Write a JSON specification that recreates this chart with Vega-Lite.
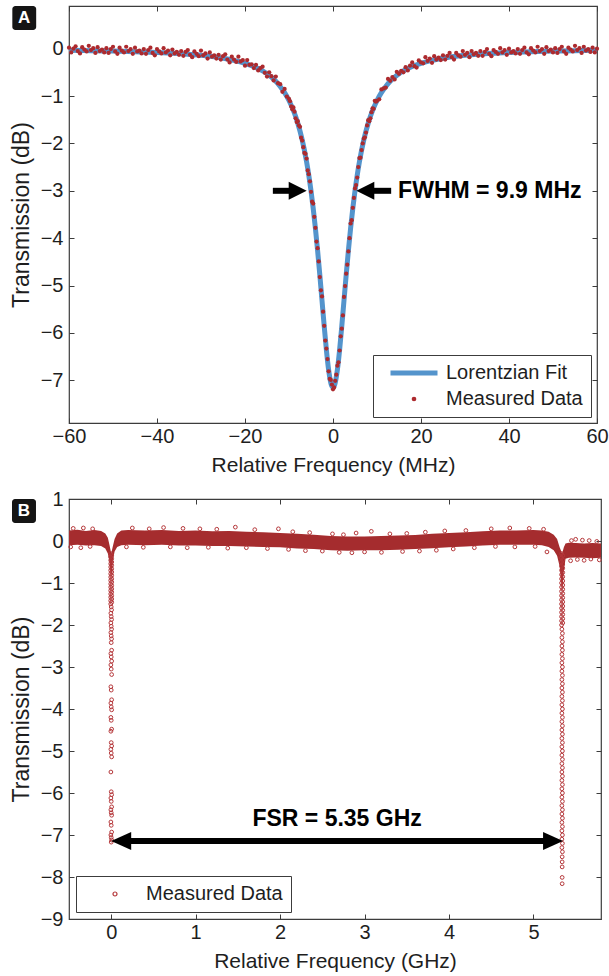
{
"$schema":"https://vega.github.io/schema/vega-lite/v6.json",
"background":"white",
"padding":{"left":9,"top":4,"right":0,"bottom":2},
"spacing":12,
"resolve":{"scale":{"color":"independent"},"legend":{"color":"independent"}},
"config":{
 "view":{"stroke":"#3c3c3c","strokeWidth":1.2},
 "axis":{"labelFont":"Liberation Sans","labelFontSize":20,"labelColor":"#1e1e1e","titleFont":"Liberation Sans","titleFontWeight":"normal","titleColor":"#1e1e1e","domain":false,"grid":false,"tickColor":"#3c3c3c","tickSize":-5,"tickWidth":1,"labelFlush":false},
 "axisX":{"labelPadding":8,"titleFontSize":21,"titlePadding":8},
 "axisY":{"labelPadding":11,"titleFontSize":23,"titlePadding":7},
 "legend":{"strokeColor":"#3c3c3c","fillColor":"white","padding":8,"labelFont":"Liberation Sans","labelFontSize":20,"labelColor":"#1e1e1e","rowPadding":6}
},
"datasets":{
 "fitA":[{"x":-60,"y":-0.036},{"x":-55,"y":-0.042},{"x":-50,"y":-0.051},{"x":-45,"y":-0.063},{"x":-40,"y":-0.08},{"x":-36,"y":-0.098},{"x":-33,"y":-0.117},{"x":-30,"y":-0.141},{"x":-28,"y":-0.161},{"x":-26,"y":-0.186},{"x":-24,"y":-0.217},{"x":-22,"y":-0.257},{"x":-20,"y":-0.309},{"x":-19,"y":-0.341},{"x":-18,"y":-0.378},{"x":-17,"y":-0.421},{"x":-16,"y":-0.471},{"x":-15,"y":-0.531},{"x":-14,"y":-0.603},{"x":-13,"y":-0.69},{"x":-12,"y":-0.797},{"x":-11,"y":-0.929},{"x":-10,"y":-1.094},{"x":-9,"y":-1.304},{"x":-8,"y":-1.574},{"x":-7,"y":-1.926},{"x":-6,"y":-2.389},{"x":-5.5,"y":-2.673},{"x":-5,"y":-2.999},{"x":-4.5,"y":-3.371},{"x":-4,"y":-3.792},{"x":-3.5,"y":-4.26},{"x":-3,"y":-4.772},{"x":-2.5,"y":-5.312},{"x":-2,"y":-5.854},{"x":-1.5,"y":-6.358},{"x":-1,"y":-6.775},{"x":-0.5,"y":-7.052},{"x":-0.25,"y":-7.125},{"x":0,"y":-7.15},{"x":0.25,"y":-7.125},{"x":0.5,"y":-7.052},{"x":1,"y":-6.775},{"x":1.5,"y":-6.358},{"x":2,"y":-5.854},{"x":2.5,"y":-5.312},{"x":3,"y":-4.772},{"x":3.5,"y":-4.26},{"x":4,"y":-3.792},{"x":4.5,"y":-3.371},{"x":5,"y":-2.999},{"x":5.5,"y":-2.673},{"x":6,"y":-2.389},{"x":7,"y":-1.926},{"x":8,"y":-1.574},{"x":9,"y":-1.304},{"x":10,"y":-1.094},{"x":11,"y":-0.929},{"x":12,"y":-0.797},{"x":13,"y":-0.69},{"x":14,"y":-0.603},{"x":15,"y":-0.531},{"x":16,"y":-0.471},{"x":17,"y":-0.421},{"x":18,"y":-0.378},{"x":19,"y":-0.341},{"x":20,"y":-0.309},{"x":22,"y":-0.257},{"x":24,"y":-0.217},{"x":26,"y":-0.186},{"x":28,"y":-0.161},{"x":30,"y":-0.141},{"x":33,"y":-0.117},{"x":36,"y":-0.098},{"x":40,"y":-0.08},{"x":45,"y":-0.063},{"x":50,"y":-0.051},{"x":55,"y":-0.042},{"x":60,"y":-0.036}],
 "measA":[{"x":-60,"y":0.02},{"x":-59.5,"y":-0.08},{"x":-59,"y":0},{"x":-58.5,"y":0.05},{"x":-58,"y":-0.05},{"x":-57.5,"y":-0.1},{"x":-57,"y":0.03},{"x":-56.5,"y":-0.02},{"x":-56,"y":-0.06},{"x":-55.5,"y":0.06},{"x":-55,"y":-0.03},{"x":-54.5,"y":0.01},{"x":-54,"y":-0.09},{"x":-53.5,"y":0.03},{"x":-53,"y":-0.05},{"x":-52.5,"y":-0.02},{"x":-52,"y":-0.08},{"x":-51.5,"y":0.01},{"x":-51,"y":-0.09},{"x":-50.5,"y":-0.01},{"x":-50,"y":0.04},{"x":-49.5,"y":-0.06},{"x":-49,"y":-0.11},{"x":-48.5,"y":0.02},{"x":-48,"y":-0.04},{"x":-47.5,"y":-0.08},{"x":-47,"y":0.04},{"x":-46.5,"y":-0.05},{"x":-46,"y":-0.01},{"x":-45.5,"y":-0.11},{"x":-45,"y":0.02},{"x":-44.5,"y":-0.06},{"x":-44,"y":-0.04},{"x":-43.5,"y":-0.1},{"x":-43,"y":-0.01},{"x":-42.5,"y":-0.11},{"x":-42,"y":-0.03},{"x":-41.5,"y":0.02},{"x":-41,"y":-0.09},{"x":-40.5,"y":-0.14},{"x":-40,"y":-0.01},{"x":-39.5,"y":-0.06},{"x":-39,"y":-0.1},{"x":-38.5,"y":0.01},{"x":-38,"y":-0.08},{"x":-37.5,"y":-0.04},{"x":-37,"y":-0.14},{"x":-36.5,"y":-0.02},{"x":-36,"y":-0.1},{"x":-35.5,"y":-0.07},{"x":-35,"y":-0.13},{"x":-34.5,"y":-0.05},{"x":-34,"y":-0.15},{"x":-33.5,"y":-0.07},{"x":-33,"y":-0.03},{"x":-32.5,"y":-0.13},{"x":-32,"y":-0.18},{"x":-31.5,"y":-0.06},{"x":-31,"y":-0.11},{"x":-30.5,"y":-0.16},{"x":-30,"y":-0.04},{"x":-29.5,"y":-0.14},{"x":-29,"y":-0.1},{"x":-28.5,"y":-0.21},{"x":-28,"y":-0.08},{"x":-27.5,"y":-0.17},{"x":-27,"y":-0.14},{"x":-26.5,"y":-0.21},{"x":-26,"y":-0.13},{"x":-25.5,"y":-0.23},{"x":-25,"y":-0.16},{"x":-24.5,"y":-0.12},{"x":-24,"y":-0.23},{"x":-23.5,"y":-0.29},{"x":-23,"y":-0.17},{"x":-22.5,"y":-0.23},{"x":-22,"y":-0.28},{"x":-21.5,"y":-0.17},{"x":-21,"y":-0.27},{"x":-20.5,"y":-0.24},{"x":-20,"y":-0.36},{"x":-19.5,"y":-0.24},{"x":-19,"y":-0.34},{"x":-18.5,"y":-0.33},{"x":-18,"y":-0.41},{"x":-17.5,"y":-0.34},{"x":-17,"y":-0.46},{"x":-16.5,"y":-0.41},{"x":-16,"y":-0.38},{"x":-15.5,"y":-0.51},{"x":-15,"y":-0.59},{"x":-14.5,"y":-0.5},{"x":-14,"y":-0.58},{"x":-13.5,"y":-0.67},{"x":-13,"y":-0.59},{"x":-12.5,"y":-0.73},{"x":-12,"y":-0.75},{"x":-11.5,"y":-0.91},{"x":-11,"y":-0.85},{"x":-10.5,"y":-1.01},{"x":-10,"y":-1.06},{"x":-9.5,"y":-1.22},{"x":-9,"y":-1.24},{"x":-8.5,"y":-1.47},{"x":-8,"y":-1.53},{"x":-7.5,"y":-1.65},{"x":-7,"y":-1.94},{"x":-6.5,"y":-2.2},{"x":-6,"y":-2.32},{"x":-5.5,"y":-2.65},{"x":-5,"y":-3.02},{"x":-4.5,"y":-3.27},{"x":-4,"y":-3.78},{"x":-3.5,"y":-4.21},{"x":-3,"y":-4.82},{"x":-2.5,"y":-5.23},{"x":-2,"y":-5.85},{"x":-1.5,"y":-6.33},{"x":-1,"y":-6.81},{"x":-0.5,"y":-6.99},{"x":0,"y":-7.19},{"x":0.5,"y":-7.01},{"x":1,"y":-6.69},{"x":1.5,"y":-6.37},{"x":2,"y":-5.91},{"x":2.5,"y":-5.24},{"x":3,"y":-4.75},{"x":3.5,"y":-4.28},{"x":4,"y":-3.69},{"x":4.5,"y":-3.36},{"x":5,"y":-2.95},{"x":5.5,"y":-2.72},{"x":6,"y":-2.31},{"x":6.5,"y":-2.14},{"x":7,"y":-1.9},{"x":7.5,"y":-1.77},{"x":8,"y":-1.51},{"x":8.5,"y":-1.47},{"x":9,"y":-1.26},{"x":9.5,"y":-1.1},{"x":10,"y":-1.1},{"x":10.5,"y":-1.07},{"x":11,"y":-0.86},{"x":11.5,"y":-0.84},{"x":12,"y":-0.82},{"x":12.5,"y":-0.64},{"x":13,"y":-0.68},{"x":13.5,"y":-0.6},{"x":14,"y":-0.65},{"x":14.5,"y":-0.49},{"x":15,"y":-0.53},{"x":15.5,"y":-0.47},{"x":16,"y":-0.5},{"x":16.5,"y":-0.39},{"x":17,"y":-0.46},{"x":17.5,"y":-0.36},{"x":18,"y":-0.29},{"x":18.5,"y":-0.37},{"x":19,"y":-0.4},{"x":19.5,"y":-0.25},{"x":20,"y":-0.29},{"x":20.5,"y":-0.31},{"x":21,"y":-0.18},{"x":21.5,"y":-0.26},{"x":22,"y":-0.21},{"x":22.5,"y":-0.3},{"x":23,"y":-0.16},{"x":23.5,"y":-0.23},{"x":24,"y":-0.19},{"x":24.5,"y":-0.24},{"x":25,"y":-0.14},{"x":25.5,"y":-0.23},{"x":26,"y":-0.15},{"x":26.5,"y":-0.09},{"x":27,"y":-0.18},{"x":27.5,"y":-0.23},{"x":28,"y":-0.09},{"x":28.5,"y":-0.14},{"x":29,"y":-0.17},{"x":29.5,"y":-0.05},{"x":30,"y":-0.13},{"x":30.5,"y":-0.09},{"x":31,"y":-0.18},{"x":31.5,"y":-0.05},{"x":32,"y":-0.12},{"x":32.5,"y":-0.09},{"x":33,"y":-0.15},{"x":33.5,"y":-0.05},{"x":34,"y":-0.15},{"x":34.5,"y":-0.07},{"x":35,"y":-0.01},{"x":35.5,"y":-0.11},{"x":36,"y":-0.16},{"x":36.5,"y":-0.03},{"x":37,"y":-0.07},{"x":37.5,"y":-0.11},{"x":38,"y":0.01},{"x":38.5,"y":-0.08},{"x":39,"y":-0.03},{"x":39.5,"y":-0.13},{"x":40,"y":0},{"x":40.5,"y":-0.08},{"x":41,"y":-0.05},{"x":41.5,"y":-0.1},{"x":42,"y":-0.01},{"x":42.5,"y":-0.11},{"x":43,"y":-0.03},{"x":43.5,"y":0.02},{"x":44,"y":-0.08},{"x":44.5,"y":-0.12},{"x":45,"y":0.01},{"x":45.5,"y":-0.04},{"x":46,"y":-0.08},{"x":46.5,"y":0.04},{"x":47,"y":-0.05},{"x":47.5,"y":-0.01},{"x":48,"y":-0.11},{"x":48.5,"y":0.03},{"x":49,"y":-0.05},{"x":49.5,"y":-0.02},{"x":50,"y":-0.08},{"x":50.5,"y":0.01},{"x":51,"y":-0.09},{"x":51.5,"y":-0.01},{"x":52,"y":0.04},{"x":52.5,"y":-0.06},{"x":53,"y":-0.11},{"x":53.5,"y":0.02},{"x":54,"y":-0.02},{"x":54.5,"y":-0.06},{"x":55,"y":0.06},{"x":55.5,"y":-0.03},{"x":56,"y":0.01},{"x":56.5,"y":-0.09},{"x":57,"y":0.04},{"x":57.5,"y":-0.04},{"x":58,"y":-0.01},{"x":58.5,"y":-0.07},{"x":59,"y":0.02},{"x":59.5,"y":-0.08},{"x":60,"y":0},
 {"x":-9.75,"y":-1.11},{"x":-9.25,"y":-1.28},{"x":-8.75,"y":-1.33},{"x":-8.25,"y":-1.55},{"x":-7.75,"y":-1.62},{"x":-7.25,"y":-1.88},{"x":-6.75,"y":-2.08},{"x":-6.25,"y":-2.22},{"x":-5.75,"y":-2.57},{"x":-5.25,"y":-2.8},{"x":-4.75,"y":-3.23},{"x":-4.25,"y":-3.55},{"x":-3.75,"y":-4.07},{"x":-3.25,"y":-4.49},{"x":-2.75,"y":-5.1},{"x":-2.25,"y":-5.55},{"x":-1.75,"y":-6.16},{"x":-1.25,"y":-6.55},{"x":-0.75,"y":-6.97},{"x":-0.25,"y":-7.09},{"x":0.25,"y":-7.15},{"x":0.75,"y":-6.88},{"x":1.25,"y":-6.62},{"x":1.75,"y":-6.07},{"x":2.25,"y":-5.63},{"x":2.75,"y":-5.01},{"x":3.25,"y":-4.56},{"x":3.75,"y":-4},{"x":4.25,"y":-3.62},{"x":4.75,"y":-3.15},{"x":5.25,"y":-2.88},{"x":5.75,"y":-2.5},{"x":6.25,"y":-2.3},{"x":6.75,"y":-2},{"x":7.25,"y":-1.87},{"x":7.75,"y":-1.62},{"x":8.25,"y":-1.53},{"x":8.75,"y":-1.34},{"x":9.25,"y":-1.27},{"x":9.75,"y":-1.12}],
 "bandB":[{"x":-0.5,"hi":0.25,"lo":-0.1},{"x":-0.4,"hi":0.27,"lo":-0.09},{"x":-0.3,"hi":0.24,"lo":-0.11},{"x":-0.2,"hi":0.26,"lo":-0.1},{"x":-0.12,"hi":0.24,"lo":-0.12},{"x":-0.07,"hi":0.18,"lo":-0.18},{"x":-0.04,"hi":0.08,"lo":-0.3},{"x":-0.02,"hi":-0.1,"lo":-0.5},{"x":0,"hi":-0.3,"lo":-0.9},{"x":0.02,"hi":-0.12,"lo":-0.45},{"x":0.04,"hi":0.05,"lo":-0.25},{"x":0.07,"hi":0.18,"lo":-0.14},{"x":0.12,"hi":0.25,"lo":-0.1},{"x":0.2,"hi":0.26,"lo":-0.09},{"x":0.4,"hi":0.25,"lo":-0.1},{"x":0.6,"hi":0.26,"lo":-0.09},{"x":0.8,"hi":0.24,"lo":-0.11},{"x":1,"hi":0.25,"lo":-0.11},{"x":1.2,"hi":0.23,"lo":-0.12},{"x":1.4,"hi":0.24,"lo":-0.12},{"x":1.6,"hi":0.22,"lo":-0.13},{"x":1.8,"hi":0.21,"lo":-0.14},{"x":2,"hi":0.19,"lo":-0.15},{"x":2.2,"hi":0.17,"lo":-0.18},{"x":2.4,"hi":0.15,"lo":-0.19},{"x":2.6,"hi":0.12,"lo":-0.22},{"x":2.8,"hi":0.11,"lo":-0.23},{"x":3,"hi":0.11,"lo":-0.22},{"x":3.2,"hi":0.12,"lo":-0.22},{"x":3.4,"hi":0.13,"lo":-0.21},{"x":3.6,"hi":0.14,"lo":-0.19},{"x":3.8,"hi":0.17,"lo":-0.17},{"x":4,"hi":0.19,"lo":-0.15},{"x":4.2,"hi":0.21,"lo":-0.13},{"x":4.4,"hi":0.23,"lo":-0.11},{"x":4.6,"hi":0.25,"lo":-0.09},{"x":4.8,"hi":0.25,"lo":-0.09},{"x":5,"hi":0.26,"lo":-0.09},{"x":5.1,"hi":0.25,"lo":-0.1},{"x":5.18,"hi":0.22,"lo":-0.14},{"x":5.24,"hi":0.15,"lo":-0.22},{"x":5.28,"hi":0.05,"lo":-0.35},{"x":5.31,"hi":-0.15,"lo":-0.6},{"x":5.34,"hi":-0.3,"lo":-1.2},{"x":5.36,"hi":-0.15,"lo":-0.7},{"x":5.38,"hi":-0.06,"lo":-0.42},{"x":5.42,"hi":-0.04,"lo":-0.4},{"x":5.5,"hi":-0.05,"lo":-0.39},{"x":5.6,"hi":-0.06,"lo":-0.4},{"x":5.7,"hi":-0.05,"lo":-0.41},{"x":5.8,"hi":-0.06,"lo":-0.4}],
 "ptsB":[{"x":-0.45,"y":0.3},{"x":-0.33,"y":0.31},{"x":-0.22,"y":0.29},{"x":0.25,"y":0.31},{"x":0.45,"y":0.29},{"x":0.62,"y":0.32},{"x":0.85,"y":0.3},{"x":1.05,"y":0.29},{"x":1.25,"y":0.28},{"x":1.47,"y":0.33},{"x":1.7,"y":0.27},{"x":1.98,"y":0.29},{"x":2.15,"y":0.22},{"x":2.35,"y":0.2},{"x":2.62,"y":0.17},{"x":2.75,"y":0.15},{"x":2.9,"y":0.19},{"x":3.08,"y":0.23},{"x":3.3,"y":0.17},{"x":3.5,"y":0.18},{"x":3.72,"y":0.21},{"x":3.95,"y":0.24},{"x":4.2,"y":0.25},{"x":4.5,"y":0.29},{"x":4.72,"y":0.31},{"x":4.95,"y":0.3},{"x":5.12,"y":0.28},{"x":5.45,"y":0.01},{"x":5.5,"y":0.04},{"x":5.58,"y":0.02},{"x":5.66,"y":0.01},{"x":5.75,"y":-0.01},
 {"x":-0.48,"y":-0.14},{"x":-0.36,"y":-0.16},{"x":-0.25,"y":-0.13},{"x":0.18,"y":-0.14},{"x":0.38,"y":-0.15},{"x":0.7,"y":-0.14},{"x":0.9,"y":-0.16},{"x":1.15,"y":-0.15},{"x":1.38,"y":-0.17},{"x":1.6,"y":-0.16},{"x":1.85,"y":-0.18},{"x":2.1,"y":-0.2},{"x":2.3,"y":-0.23},{"x":2.5,"y":-0.24},{"x":2.7,"y":-0.27},{"x":2.85,"y":-0.28},{"x":3,"y":-0.26},{"x":3.2,"y":-0.27},{"x":3.45,"y":-0.25},{"x":3.65,"y":-0.24},{"x":3.85,"y":-0.22},{"x":4.05,"y":-0.19},{"x":4.3,"y":-0.16},{"x":4.55,"y":-0.13},{"x":4.78,"y":-0.14},{"x":5.02,"y":-0.13},{"x":5.16,"y":-0.26},{"x":5.44,"y":-0.47},{"x":5.52,"y":-0.44},{"x":5.6,"y":-0.46},{"x":5.68,"y":-0.43},{"x":5.78,"y":-0.45},
 {"x":-0.006,"y":-0.3},{"x":0.006,"y":-0.34},{"x":-0.006,"y":-0.38},{"x":0.006,"y":-0.42},{"x":-0.006,"y":-0.46},{"x":0.006,"y":-0.5},{"x":-0.006,"y":-0.54},{"x":0.006,"y":-0.58},{"x":-0.006,"y":-0.62},{"x":0.006,"y":-0.66},{"x":-0.006,"y":-0.7},{"x":0.006,"y":-0.74},{"x":-0.006,"y":-0.78},{"x":0.006,"y":-0.82},{"x":-0.006,"y":-0.86},{"x":0.006,"y":-0.9},{"x":-0.006,"y":-0.94},{"x":0.006,"y":-0.98},{"x":-0.006,"y":-1.02},{"x":0.006,"y":-1.06},{"x":-0.006,"y":-1.1},{"x":0.006,"y":-1.14},{"x":-0.006,"y":-1.18},{"x":0.006,"y":-1.22},{"x":-0.006,"y":-1.26},{"x":0.006,"y":-1.3},{"x":-0.006,"y":-1.34},{"x":0.006,"y":-1.38},{"x":-0.006,"y":-1.42},{"x":0.006,"y":-1.46},{"x":-0.006,"y":-1.5},
 {"x":0,"y":-1.57},{"x":0.004,"y":-1.64},{"x":-0.004,"y":-1.72},{"x":0,"y":-1.8},{"x":0.004,"y":-1.87},{"x":-0.004,"y":-1.95},{"x":0,"y":-2.03},{"x":0.004,"y":-2.1},{"x":-0.004,"y":-2.18},{"x":0,"y":-2.26},{"x":0.004,"y":-2.33},
 {"x":0,"y":-2.42},{"x":0.005,"y":-2.6},{"x":-0.004,"y":-2.68},{"x":0,"y":-2.76},{"x":0.005,"y":-2.86},{"x":-0.004,"y":-2.95},{"x":0,"y":-3.05},{"x":0.005,"y":-3.18},{"x":-0.004,"y":-3.47},{"x":0,"y":-3.55},{"x":0.005,"y":-3.78},{"x":-0.004,"y":-3.86},{"x":0,"y":-3.95},{"x":0.005,"y":-4.02},{"x":-0.004,"y":-4.2},{"x":0,"y":-4.27},{"x":0.005,"y":-4.48},{"x":-0.004,"y":-4.53},{"x":0,"y":-4.8},{"x":0.005,"y":-4.88},{"x":-0.004,"y":-4.96},{"x":0,"y":-5.05},{"x":0.005,"y":-5.14},{"x":-0.004,"y":-5.5},{"x":0,"y":-5.97},{"x":0.005,"y":-6.04},{"x":-0.004,"y":-6.12},{"x":0,"y":-6.2},{"x":0.005,"y":-6.33},{"x":-0.004,"y":-6.4},{"x":0,"y":-6.47},{"x":0.005,"y":-6.53},{"x":-0.004,"y":-6.69},{"x":0,"y":-6.77},{"x":0.005,"y":-6.93},{"x":-0.004,"y":-7},{"x":0,"y":-7.06},{"x":0.005,"y":-7.12},{"x":0,"y":-7.17},
 {"x":5.333,"y":-0.3},{"x":5.347,"y":-0.35},{"x":5.333,"y":-0.4},{"x":5.347,"y":-0.45},{"x":5.333,"y":-0.5},{"x":5.347,"y":-0.55},{"x":5.333,"y":-0.6},{"x":5.347,"y":-0.65},{"x":5.333,"y":-0.7},{"x":5.347,"y":-0.75},{"x":5.333,"y":-0.8},{"x":5.347,"y":-0.85},{"x":5.333,"y":-0.9},{"x":5.347,"y":-0.95},{"x":5.333,"y":-1},{"x":5.347,"y":-1.05},{"x":5.333,"y":-1.1},{"x":5.347,"y":-1.15},{"x":5.333,"y":-1.2},{"x":5.347,"y":-1.25},{"x":5.333,"y":-1.3},{"x":5.347,"y":-1.35},{"x":5.333,"y":-1.4},{"x":5.347,"y":-1.45},{"x":5.333,"y":-1.5},{"x":5.347,"y":-1.55},{"x":5.333,"y":-1.6},{"x":5.347,"y":-1.65},{"x":5.333,"y":-1.7},{"x":5.347,"y":-1.75},{"x":5.333,"y":-1.8},{"x":5.347,"y":-1.85},{"x":5.333,"y":-1.9},{"x":5.347,"y":-1.95},{"x":5.333,"y":-2},
 {"x":5.337,"y":-2.1},{"x":5.343,"y":-2.2},{"x":5.337,"y":-2.3},{"x":5.343,"y":-2.4},{"x":5.337,"y":-2.5},{"x":5.343,"y":-2.6},{"x":5.337,"y":-2.7},{"x":5.343,"y":-2.8},{"x":5.337,"y":-2.9},{"x":5.343,"y":-3},{"x":5.337,"y":-3.1},{"x":5.343,"y":-3.2},{"x":5.337,"y":-3.3},{"x":5.343,"y":-3.4},{"x":5.337,"y":-3.5},{"x":5.343,"y":-3.6},{"x":5.337,"y":-3.7},{"x":5.343,"y":-3.8},{"x":5.337,"y":-3.9},{"x":5.343,"y":-4},{"x":5.337,"y":-4.1},{"x":5.343,"y":-4.2},{"x":5.337,"y":-4.3},{"x":5.343,"y":-4.4},{"x":5.337,"y":-4.5},{"x":5.343,"y":-4.6},{"x":5.337,"y":-4.7},{"x":5.343,"y":-4.8},{"x":5.337,"y":-4.9},{"x":5.343,"y":-5},{"x":5.337,"y":-5.1},{"x":5.343,"y":-5.2},{"x":5.337,"y":-5.3},{"x":5.343,"y":-5.4},{"x":5.337,"y":-5.5},{"x":5.343,"y":-5.6},{"x":5.337,"y":-5.7},{"x":5.343,"y":-5.8},{"x":5.337,"y":-5.9},{"x":5.343,"y":-6},{"x":5.337,"y":-6.1},{"x":5.343,"y":-6.2},{"x":5.337,"y":-6.3},{"x":5.343,"y":-6.4},{"x":5.337,"y":-6.5},{"x":5.343,"y":-6.6},{"x":5.337,"y":-6.7},{"x":5.343,"y":-6.8},{"x":5.337,"y":-6.9},{"x":5.343,"y":-7},{"x":5.337,"y":-7.1},{"x":5.343,"y":-7.2},{"x":5.337,"y":-7.3},{"x":5.343,"y":-7.4},
 {"x":5.34,"y":-7.52},{"x":5.34,"y":-7.64},{"x":5.34,"y":-7.76},{"x":5.34,"y":-8.01},{"x":5.34,"y":-8.16}]
},
"vconcat":[
 {
  "width":528,"height":417,
  "resolve":{"axis":{"x":"independent","y":"independent"}},
  "layer":[
   {"data":{"name":"fitA"},"mark":{"type":"line","strokeWidth":5,"interpolate":"monotone"},
    "encoding":{
     "x":{"field":"x","type":"quantitative","scale":{"domain":[-60,60],"nice":false,"zero":false},"axis":{"orient":"bottom","values":[-60,-40,-20,0,20,40,60],"title":"Relative Frequency (MHz)"}},
     "y":{"field":"y","type":"quantitative","scale":{"domain":[-7.9,0.9],"nice":false,"zero":false},"axis":{"orient":"left","values":[0,-1,-2,-3,-4,-5,-6,-7],"title":"Transmission (dB)"}},
     "color":{"datum":"Lorentzian Fit","type":"nominal","scale":{"domain":["Lorentzian Fit","Measured Data"],"range":["#5494cc","#ad2a2e"]},
      "legend":{"title":null,"orient":"bottom-right","offset":6,"symbolStrokeWidth":5,"symbolOffset":23,"labelOffset":22,"symbolType":"stroke",
       "encode":{"symbols":{"update":{"shape":{"signal":"datum.value === 'Lorentzian Fit' ? 'stroke' : 'circle'"},"size":{"signal":"datum.value === 'Lorentzian Fit' ? 2209 : 22"},"strokeWidth":{"signal":"datum.value === 'Lorentzian Fit' ? 5 : 0"},"stroke":{"signal":"datum.value === 'Lorentzian Fit' ? '#5494cc' : '#ad2a2e'"},"fill":{"signal":"datum.value === 'Lorentzian Fit' ? 'transparent' : '#ad2a2e'"},"opacity":{"value":1}}}}}}
    }},
   {"data":{"name":"measA"},"mark":{"type":"point","filled":true,"size":18,"opacity":1},
    "encoding":{
     "x":{"field":"x","type":"quantitative","axis":{"orient":"top","labels":false,"title":null,"values":[-60,-40,-20,0,20,40,60]}},
     "y":{"field":"y","type":"quantitative","axis":{"orient":"right","labels":false,"title":null,"values":[0,-1,-2,-3,-4,-5,-6,-7]}},
     "color":{"datum":"Measured Data","type":"nominal",
      "legend":{"title":null,"orient":"bottom-right","offset":6,"symbolStrokeWidth":5,"symbolOffset":23,"labelOffset":22,"symbolType":"stroke",
       "encode":{"symbols":{"update":{"shape":{"signal":"datum.value === 'Lorentzian Fit' ? 'stroke' : 'circle'"},"size":{"signal":"datum.value === 'Lorentzian Fit' ? 2209 : 22"},"strokeWidth":{"signal":"datum.value === 'Lorentzian Fit' ? 5 : 0"},"stroke":{"signal":"datum.value === 'Lorentzian Fit' ? '#5494cc' : '#ad2a2e'"},"fill":{"signal":"datum.value === 'Lorentzian Fit' ? 'transparent' : '#ad2a2e'"},"opacity":{"value":1}}}}}}
    }},
   {"data":{"values":[{"x":-13.67,"x2":-8.6,"y":-3},{"x":7.9,"x2":13.22,"y":-3}]},"mark":{"type":"rule","strokeWidth":6,"color":"black"},
    "encoding":{"x":{"field":"x","type":"quantitative","axis":null},"x2":{"field":"x2"},"y":{"field":"y","type":"quantitative","axis":null}}},
   {"data":{"values":[{"x":-8.02,"y":-3}]},"mark":{"type":"point","shape":"M-1,-1L1,0L-1,1Z","size":324,"filled":true,"color":"black","opacity":1},
    "encoding":{"x":{"field":"x","type":"quantitative","axis":null},"y":{"field":"y","type":"quantitative","axis":null}}},
   {"data":{"values":[{"x":7.35,"y":-3}]},"mark":{"type":"point","shape":"M1,-1L-1,0L1,1Z","size":324,"filled":true,"color":"black","opacity":1},
    "encoding":{"x":{"field":"x","type":"quantitative","axis":null},"y":{"field":"y","type":"quantitative","axis":null}}},
   {"data":{"values":[{"x":14.8,"y":-3,"label":"FWHM = 9.9 MHz"}]},"mark":{"type":"text","font":"Liberation Sans","fontWeight":"bold","fontSize":23,"align":"left","baseline":"middle","color":"black"},
    "encoding":{"x":{"field":"x","type":"quantitative","axis":null},"y":{"field":"y","type":"quantitative","axis":null},"text":{"field":"label"}}},
   {"data":{"values":[{"x":-72.88,"x2":-67.46,"y":0.9,"y2":0.394}]},"mark":{"type":"rect","color":"#151515","cornerRadius":3},
    "encoding":{"x":{"field":"x","type":"quantitative","axis":null},"x2":{"field":"x2"},"y":{"field":"y","type":"quantitative","axis":null},"y2":{"field":"y2"}}},
   {"data":{"values":[{"x":-70.17,"y":0.647,"label":"A"}]},"mark":{"type":"text","font":"Liberation Sans","fontWeight":"bold","fontSize":17,"align":"center","baseline":"middle","color":"white"},
    "encoding":{"x":{"field":"x","type":"quantitative","axis":null},"y":{"field":"y","type":"quantitative","axis":null},"text":{"field":"label"}}}
  ]
 },
 {
  "width":532,"height":420,
  "resolve":{"axis":{"x":"independent","y":"independent"}},
  "layer":[
   {"data":{"name":"bandB"},"mark":{"type":"area","color":"#a52c2e","opacity":1},
    "encoding":{
     "x":{"field":"x","type":"quantitative","scale":{"domain":[-0.5,5.8],"nice":false,"zero":false},"axis":{"orient":"bottom","values":[0,1,2,3,4,5],"title":"Relative Frequency (GHz)"}},
     "y":{"field":"hi","type":"quantitative","scale":{"domain":[-9,1],"nice":false,"zero":false},"axis":{"orient":"left","values":[1,0,-1,-2,-3,-4,-5,-6,-7,-8,-9],"title":"Transmission (dB)"}},
     "y2":{"field":"lo"}
    }},
   {"data":{"name":"ptsB"},"mark":{"type":"point","filled":false,"size":14,"strokeWidth":1,"opacity":1},
    "encoding":{
     "x":{"field":"x","type":"quantitative","axis":{"orient":"top","labels":false,"title":null,"values":[0,1,2,3,4,5]}},
     "y":{"field":"y","type":"quantitative","axis":{"orient":"right","labels":false,"title":null,"values":[1,0,-1,-2,-3,-4,-5,-6,-7,-8,-9]}},
     "color":{"datum":"Measured Data","type":"nominal","scale":{"domain":["Measured Data"],"range":["#b5373a"]},
      "legend":{"title":null,"orient":"bottom-left","offset":7,"symbolSize":16,"symbolStrokeWidth":1.2,"symbolOffset":21,"labelOffset":21,"symbolType":"circle","symbolFillColor":"transparent","symbolStrokeColor":"#b5373a",
       "encode":{"symbols":{"update":{"fill":{"value":"transparent"},"stroke":{"value":"#b5373a"},"opacity":{"value":1}}}}}}
    }},
   {"data":{"values":[{"x":0.15,"x2":5.2,"y":-7.14}]},"mark":{"type":"rule","strokeWidth":6,"color":"black"},
    "encoding":{"x":{"field":"x","type":"quantitative","axis":null},"x2":{"field":"x2"},"y":{"field":"y","type":"quantitative","axis":null}}},
   {"data":{"values":[{"x":0.118,"y":-7.14}]},"mark":{"type":"point","shape":"M1,-0.9L-1,0L1,0.9Z","size":400,"filled":true,"color":"black","opacity":1},
    "encoding":{"x":{"field":"x","type":"quantitative","axis":null},"y":{"field":"y","type":"quantitative","axis":null}}},
   {"data":{"values":[{"x":5.232,"y":-7.14}]},"mark":{"type":"point","shape":"M-1,-0.9L1,0L-1,0.9Z","size":400,"filled":true,"color":"black","opacity":1},
    "encoding":{"x":{"field":"x","type":"quantitative","axis":null},"y":{"field":"y","type":"quantitative","axis":null}}},
   {"data":{"values":[{"x":2.675,"y":-6.62,"label":"FSR = 5.35 GHz"}]},"mark":{"type":"text","font":"Liberation Sans","fontWeight":"bold","fontSize":23,"align":"center","baseline":"middle","color":"black"},
    "encoding":{"x":{"field":"x","type":"quantitative","axis":null},"y":{"field":"y","type":"quantitative","axis":null},"text":{"field":"label"}}},
   {"data":{"values":[{"x":-1.175,"x2":-0.891,"y":1,"y2":0.43}]},"mark":{"type":"rect","color":"#151515","cornerRadius":3},
    "encoding":{"x":{"field":"x","type":"quantitative","axis":null},"x2":{"field":"x2"},"y":{"field":"y","type":"quantitative","axis":null},"y2":{"field":"y2"}}},
   {"data":{"values":[{"x":-1.033,"y":0.715,"label":"B"}]},"mark":{"type":"text","font":"Liberation Sans","fontWeight":"bold","fontSize":17,"align":"center","baseline":"middle","color":"white"},
    "encoding":{"x":{"field":"x","type":"quantitative","axis":null},"y":{"field":"y","type":"quantitative","axis":null},"text":{"field":"label"}}}
  ]
 }
]
}
